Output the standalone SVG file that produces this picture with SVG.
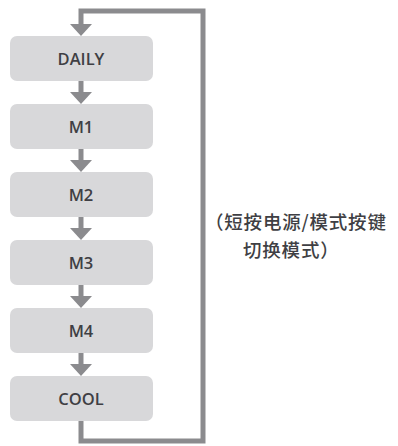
<svg xmlns="http://www.w3.org/2000/svg" width="398" height="446" viewBox="0 0 398 446">
<defs>
<style>
.box{fill:#d8d8da}
.lbl{font-family:"Open Sans","Noto Sans","Liberation Sans",sans-serif;font-size:16.5px;font-weight:600;fill:#3f3f44;text-anchor:middle}
.ln{stroke:#8b8b8e;stroke-width:5;fill:none}
.hd{fill:#8b8b8e}
.note{font-family:"Noto Sans CJK SC","Noto Sans",sans-serif;font-size:18.5px;letter-spacing:0.8px;font-weight:500;fill:#3f3f44}
</style>
</defs>
<rect width="398" height="446" fill="#ffffff"/>
<g id="connectors">
<polyline class="ln" points="81,420 81,441 203,441 203,11 81,11 81,25"/>
<polygon class="hd" points="70,24 92,24 81,36"/>
<line class="ln" x1="81" y1="81" x2="81" y2="93"/>
<polygon class="hd" points="70,92 92,92 81,104"/>
<line class="ln" x1="81" y1="149" x2="81" y2="161"/>
<polygon class="hd" points="70,160 92,160 81,172"/>
<line class="ln" x1="81" y1="217" x2="81" y2="229"/>
<polygon class="hd" points="70,228 92,228 81,240"/>
<line class="ln" x1="81" y1="285" x2="81" y2="297"/>
<polygon class="hd" points="70,296 92,296 81,308"/>
<line class="ln" x1="81" y1="353" x2="81" y2="365"/>
<polygon class="hd" points="70,364 92,364 81,376"/>
</g>
<g id="daily"><rect class="box" x="10" y="36" width="143" height="45" rx="7"/><text class="lbl" x="81" y="65">DAILY</text></g>
<g id="m1"><rect class="box" x="10" y="104" width="143" height="45" rx="7"/><text class="lbl" x="81" y="133">M1</text></g>
<g id="m2"><rect class="box" x="10" y="172" width="143" height="45" rx="7"/><text class="lbl" x="81" y="201">M2</text></g>
<g id="m3"><rect class="box" x="10" y="240" width="143" height="45" rx="7"/><text class="lbl" x="81" y="269">M3</text></g>
<g id="m4"><rect class="box" x="10" y="308" width="143" height="45" rx="7"/><text class="lbl" x="81" y="337">M4</text></g>
<g id="cool"><rect class="box" x="10" y="376" width="143" height="45" rx="7"/><text class="lbl" x="81" y="405">COOL</text></g>
<g id="note">
<text class="note" x="205" y="229">（短按电源/模式按键</text>
<text class="note" x="243" y="256.5">切换模式）</text>
</g>
</svg>
